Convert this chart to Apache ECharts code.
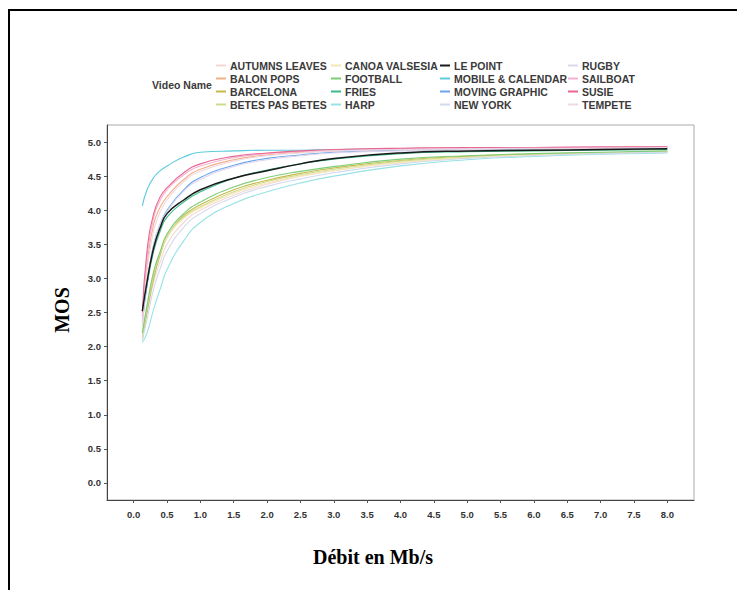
<!DOCTYPE html>
<html>
<head>
<meta charset="utf-8">
<script src="https://cdn.jsdelivr.net/npm/echarts@6/dist/echarts.min.js"></script>
<style>html,body{margin:0;padding:0;background:#fff}#c{width:737px;height:590px}</style>
</head>
<body>
<div id="c"></div>
<script>
// Bitrate sample points (Mb/s)
const xs = [0.13, 0.2, 0.3, 0.4, 0.5, 0.75, 1, 1.5, 2, 2.5, 3, 4, 5, 6, 7, 8];
const videoNames = ["AUTUMNS LEAVES","BALON POPS","BARCELONA","BETES PAS BETES","CANOA VALSESIA","FOOTBALL","FRIES","HARP","LE POINT","MOBILE & CALENDAR","MOVING GRAPHIC","NEW YORK","RUGBY","SAILBOAT","SUSIE","TEMPETE"];
const xTicks = [0,0.5,1,1.5,2,2.5,3,3.5,4,4.5,5,5.5,6,6.5,7,7.5,8];
const yTicks = [0,0.5,1,1.5,2,2.5,3,3.5,4,4.5,5];

// MOS values per video
const autumnsLeaves  = [2.20,2.50,2.95,3.25,3.50,3.82,4.00,4.22,4.38,4.50,4.58,4.70,4.77,4.81,4.83,4.85];
const balonPops      = [2.45,3.20,3.80,4.05,4.20,4.45,4.60,4.74,4.81,4.85,4.87,4.89,4.90,4.90,4.91,4.92];
const barcelona      = [2.10,2.50,3.00,3.35,3.60,3.92,4.08,4.30,4.44,4.54,4.62,4.73,4.79,4.82,4.84,4.86];
const betesPasBetes  = [2.15,2.55,3.05,3.38,3.62,3.90,4.05,4.27,4.42,4.52,4.60,4.72,4.78,4.82,4.84,4.86];
const canoaValsesia  = [2.25,2.60,3.10,3.40,3.60,3.88,4.03,4.25,4.40,4.50,4.58,4.70,4.77,4.81,4.83,4.85];
const football       = [2.20,2.60,3.10,3.40,3.65,3.95,4.12,4.34,4.48,4.57,4.64,4.75,4.80,4.83,4.85,4.87];
const fries          = [2.45,2.90,3.40,3.70,3.90,4.12,4.27,4.47,4.59,4.68,4.75,4.83,4.86,4.87,4.88,4.89];
const harp           = [2.06,2.20,2.55,2.85,3.13,3.55,3.82,4.10,4.27,4.40,4.50,4.65,4.74,4.79,4.82,4.84];
const lePoint        = [2.52,2.95,3.45,3.75,3.95,4.15,4.30,4.47,4.58,4.68,4.76,4.84,4.87,4.88,4.89,4.90];
const mobileCalendar = [4.06,4.30,4.48,4.58,4.65,4.78,4.85,4.87,4.88,4.88,4.89,4.90,4.90,4.91,4.91,4.92];
const movingGraphic  = [2.35,2.90,3.50,3.80,4.00,4.30,4.48,4.66,4.76,4.81,4.85,4.88,4.89,4.90,4.91,4.92];
const newYork        = [2.10,2.40,2.85,3.15,3.40,3.75,3.95,4.19,4.35,4.46,4.55,4.68,4.76,4.80,4.83,4.85];
const rugby          = [2.40,2.95,3.50,3.80,3.98,4.28,4.45,4.64,4.74,4.80,4.84,4.87,4.89,4.90,4.90,4.91];
const sailboat       = [2.40,3.30,3.90,4.15,4.30,4.52,4.65,4.77,4.83,4.86,4.88,4.90,4.91,4.92,4.92,4.93];
const susie          = [2.50,3.40,3.95,4.20,4.33,4.55,4.68,4.79,4.84,4.87,4.89,4.91,4.92,4.92,4.93,4.93];
const tempete        = [2.30,3.10,3.70,3.98,4.15,4.42,4.57,4.72,4.80,4.84,4.87,4.89,4.90,4.91,4.91,4.92];

const seriesValues = [autumnsLeaves,balonPops,barcelona,betesPasBetes,canoaValsesia,football,fries,harp,lePoint,mobileCalendar,movingGraphic,newYork,rugby,sailboat,susie,tempete];
const colors = ['#f4d8d4','#f3b088','#c2bb4a','#d2da88','#f3e7b4','#7fcc77','#3cbc88','#97e2e4','#1a1a1a','#5ccbdc','#6aa6ec','#d3daee','#dfd6ee','#f7b2d2','#e66892','#efd8e2'];

const chart = echarts.init(document.getElementById('c'), null, {renderer:'svg'});

const series = videoNames.map((name, i) => ({
  name: name,
  type: 'line',
  smooth: true,
  showSymbol: false,
  symbol: 'none',
  data: xs.map((x, j) => [x, seriesValues[i][j]]),
  lineStyle: {width: name === 'LE POINT' ? 1.5 : 1.1, color: colors[i]},
  itemStyle: {color: colors[i]},
  z: name === 'LE POINT' ? 5 : 2
}));

const legendCols = [0,4,8,12].map(k => videoNames.slice(k, k+4));
const legendLefts = [216, 331, 440, 568];
const legends = legendCols.map((names, c) => ({
  data: names,
  orient: 'vertical',
  left: legendLefts[c],
  top: 60,
  itemGap: 2,
  itemWidth: 10,
  itemHeight: 2,
  icon: 'rect',
  padding: 0,
  selectedMode: false,
  textStyle: {fontSize: 10.5, fontWeight: 'bold', color: '#3a3a3a', fontFamily: 'Liberation Sans, Arial, sans-serif', padding: [0,0,0,-1]}
}));

chart.setOption({
  animation: false,
  backgroundColor: '#fff',
  color: colors,
  legend: legends,
  grid: {left: 107, right: 43, top: 125, bottom: 90, show: true, borderColor: '#aaa', borderWidth: 1, backgroundColor: '#fff'},
  xAxis: {
    type: 'value', min: -0.4, max: 8.4,
    splitLine: {show: false},
    axisLine: {show: true, onZero: false, lineStyle: {color: '#444', width: 1}},
    axisTick: {show: true, length: 3, lineStyle: {color: '#555'}, customValues: xTicks},
    axisLabel: {customValues: xTicks, formatter: v => v.toFixed(1), fontSize: 9.5, fontWeight: 'bold', color: '#333', margin: 9, fontFamily: 'Liberation Sans, Arial, sans-serif'}
  },
  yAxis: {
    type: 'value', min: -0.25, max: 5.25,
    splitLine: {show: false},
    axisLine: {show: true, onZero: false, lineStyle: {color: '#444', width: 1}},
    axisTick: {show: true, length: 3, lineStyle: {color: '#555'}, customValues: yTicks},
    axisLabel: {customValues: yTicks, formatter: v => v.toFixed(1), fontSize: 9.5, fontWeight: 'bold', color: '#333', margin: 6, fontFamily: 'Liberation Sans, Arial, sans-serif'}
  },
  graphic: [
    {type: 'line', shape: {x1: 8, y1: 10, x2: 737, y2: 10}, style: {stroke: '#000', lineWidth: 2}},
    {type: 'line', shape: {x1: 9, y1: 10, x2: 9, y2: 590}, style: {stroke: '#000', lineWidth: 2}},
    {type: 'text', left: 152, top: 79, style: {text: 'Video Name', font: 'bold 10.5px Liberation Sans, Arial, sans-serif', fill: '#3a3a3a'}},
    {type: 'text', x: 62, y: 310, rotation: Math.PI/2, style: {text: 'MOS', font: 'bold 20px Liberation Serif, Times New Roman, serif', fill: '#000', align: 'center', verticalAlign: 'middle'}},
    {type: 'text', x: 373, y: 557, style: {text: 'Débit en Mb/s', font: 'bold 20px Liberation Serif, Times New Roman, serif', fill: '#000', align: 'center', verticalAlign: 'middle'}}
  ],
  series: series
});
</script>
</body>
</html>
